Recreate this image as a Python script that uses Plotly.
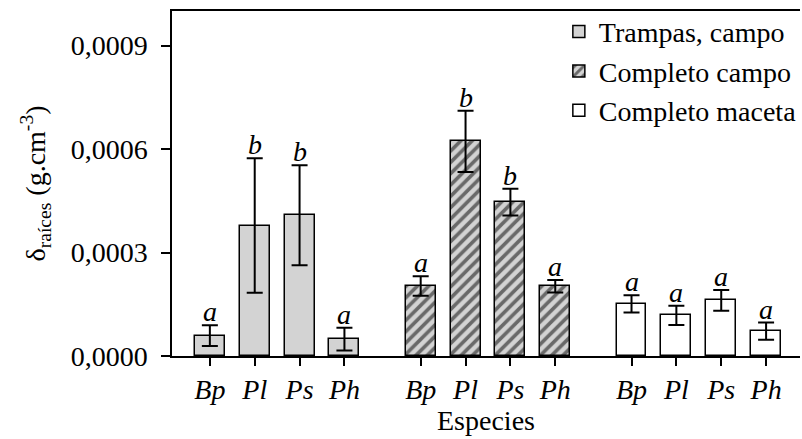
import plotly.graph_objects as go

# Species and treatments
especies = ["Bp", "Pl", "Ps", "Ph"]
tratamientos = ["Trampas, campo", "Completo campo", "Completo maceta"]

# Mean root density (g/cm3) per treatment, species order as above
media_trampas = [0.000059, 0.000378, 0.000408, 0.000049]
media_completo_campo = [0.000203, 0.000622, 0.000446, 0.000202]
media_completo_maceta = [0.000151, 0.000118, 0.000161, 0.000072]

# Standard errors
error_trampas = [0.000030, 0.000195, 0.000145, 0.000033]
error_completo_campo = [0.000028, 0.000089, 0.000039, 0.000018]
error_completo_maceta = [0.000025, 0.000028, 0.000030, 0.000025]

# Significance letters
letras_trampas = ["a", "b", "b", "a"]
letras_completo_campo = ["a", "b", "b", "a"]
letras_completo_maceta = ["a", "a", "a", "a"]

y_ticks = [0.0, 0.0003, 0.0006, 0.0009]

medias = [media_trampas, media_completo_campo, media_completo_maceta]
errores = [error_trampas, error_completo_campo, error_completo_maceta]
letras = [letras_trampas, letras_completo_campo, letras_completo_maceta]

GRIS = "#d3d3d3"
FUENTE = "'Liberation Serif', 'Times New Roman', Times, serif"
estilos = [
    dict(color=GRIS),
    dict(color=GRIS, pattern=dict(shape="/", fgcolor="black", bgcolor=GRIS,
                                  size=8, solidity=0.45, fillmode="overlay")),
    dict(color="white"),
]

separacion = 0.7  # extra space between treatment groups (in bar slots)
n = len(especies)

fig = go.Figure()
tickvals, ticktext = [], []
annotations = []
for g, (nombre, med, err, let, est) in enumerate(
        zip(tratamientos, medias, errores, letras, estilos)):
    xs = [g * (n + separacion) + i for i in range(n)]
    tickvals += xs
    ticktext += [f"<i>{e}</i>" for e in especies]
    fig.add_trace(go.Bar(
        x=xs, y=med, name=nombre, width=0.667,
        marker=dict(line=dict(color="black", width=1.5), **est),
        error_y=dict(type="data", array=err, visible=True,
                     color="black", thickness=2, width=8),
    ))
    for x, m, e, l in zip(xs, med, err, let):
        annotations.append(dict(
            x=x, y=m + e, text=f"<i>{l}</i>", showarrow=False,
            xanchor="center", yanchor="bottom", yshift=-4,
            font=dict(family=FUENTE, size=28, color="black"),
        ))

fig.update_layout(
    width=802, height=439,
    margin=dict(l=172, r=0, t=11, b=83),
    paper_bgcolor="white", plot_bgcolor="white",
    separators=", ",
    font=dict(family=FUENTE, size=28, color="black"),
    showlegend=True,
    legend=dict(x=0.616, y=1.012, xanchor="left", yanchor="top",
                bgcolor="rgba(0,0,0,0)", font=dict(family=FUENTE, size=28),
                itemclick=False),
    annotations=annotations,
    bargap=0,
)

fig.update_xaxes(
    range=[tickvals[0] - 0.844, tickvals[-1] + 0.756],
    tickvals=tickvals, ticktext=ticktext,
    showline=True, linecolor="black", linewidth=1.5, mirror=True,
    ticks="outside", ticklen=8, tickwidth=1.5, tickcolor="black",
    showgrid=False, zeroline=False,
    title=dict(text="Especies", font=dict(family=FUENTE, size=28), standoff=4),
    tickfont=dict(family=FUENTE, size=28),
)
fig.update_yaxes(
    range=[0, 0.001],
    tickvals=y_ticks, tickformat=".4f",
    showline=True, linecolor="black", linewidth=1.5, mirror=False,
    ticks="outside", ticklen=9, tickwidth=1.5, tickcolor="black",
    showgrid=False, zeroline=False,
    ticklabelstandoff=8,
    title=dict(text="δ<sub>raíces</sub> (g.cm<sup>-3</sup>)",
               font=dict(family=FUENTE, size=28), standoff=17),
    tickfont=dict(family=FUENTE, size=28),
)

fig.write_html("out.html")
